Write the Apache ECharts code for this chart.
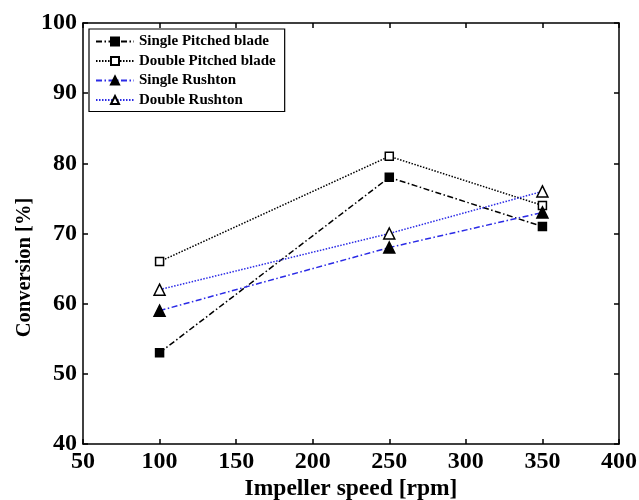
<!DOCTYPE html>
<html>
<head>
<meta charset="utf-8">
<script src="https://cdn.jsdelivr.net/npm/echarts@6/dist/echarts.min.js"></script>
<style>html,body{margin:0;padding:0;background:#fff}#c{width:639px;height:500px}</style>
</head>
<body>
<div id="c"></div>
<script>
const speeds = [100, 250, 350];
const singlePitched = [53, 78, 71];
const doublePitched = [66, 81, 74];
const singleRushton = [59, 68, 73];
const doubleRushton = [62, 70, 76];
const seriesNames = ['Single Pitched blade', 'Double Pitched blade', 'Single Rushton', 'Double Rushton'];

const FONT = '"Liberation Serif", "Times New Roman", serif';
const blue = '#2a2ae6';
const dashDot = [6, 2.5, 1.5, 2.5];
const dotted = [1.5, 1.5];

function pts(vals) { return speeds.map((s, i) => [s, vals[i]]); }

function mk(name, vals, color, dash, symbol, filled, size) {
  return {
    name: name, type: 'line', data: pts(vals),
    symbol: symbol, symbolSize: size,
    lineStyle: { color: color, width: 1.5, type: dash },
    itemStyle: { color: filled ? '#000' : '#fff', borderColor: '#000', borderWidth: 1.5 },
    emphasis: { disabled: true },
    z: 3
  };
}

const chart = echarts.init(document.getElementById('c'));
const axisLine = { show: true, lineStyle: { color: '#000', width: 1.5 } };
const tick = { show: true, inside: true, length: 5, lineStyle: { color: '#000', width: 1.5 } };
const lbl = { color: '#000', fontFamily: FONT, fontWeight: 'bold', fontSize: 24 };
chart.setOption({
  animation: false,
  grid: { left: 83, right: 20, top: 23, bottom: 56, containLabel: false, outerBoundsMode: 'none' },
  legend: {
    data: seriesNames,
    orient: 'vertical', left: 89, top: 29,
    borderColor: '#000', borderWidth: 1.2,
    padding: [5, 9, 4, 6],
    itemWidth: 38, itemHeight: 10, itemGap: 4.5, itemTextGap: 4,
    textStyle: { color: '#000', fontFamily: FONT, fontWeight: 'bold', fontSize: 15, lineHeight: 15 },
    backgroundColor: '#fff'
  },
  xAxis: [{
    type: 'value', min: 50, max: 400, interval: 50,
    name: 'Impeller speed [rpm]', nameLocation: 'middle', nameGap: 33, nameMoveOverlap: false,
    nameTextStyle: { color: '#000', fontFamily: FONT, fontWeight: 'bold', fontSize: 23.5 },
    axisLine: axisLine, axisTick: tick, axisLabel: Object.assign({ margin: 6 }, lbl),
    splitLine: { show: false }
  }, {
    type: 'value', position: 'top', min: 50, max: 400, interval: 50,
    axisLine: axisLine, axisTick: tick, axisLabel: { show: false }, splitLine: { show: false }
  }],
  yAxis: [{
    type: 'value', min: 40, max: 100, interval: 10,
    name: 'Conversion [%]', nameLocation: 'middle', nameGap: 48, nameMoveOverlap: false,
    nameTextStyle: { color: '#000', fontFamily: FONT, fontWeight: 'bold', fontSize: 20.5, padding: [0, 68, 0, 0] },
    axisLine: axisLine, axisTick: tick, axisLabel: Object.assign({ margin: 6 }, lbl),
    splitLine: { show: false }
  }, {
    type: 'value', position: 'right', min: 40, max: 100, interval: 10,
    axisLine: axisLine, axisTick: tick, axisLabel: { show: false }, splitLine: { show: false }
  }],
  series: [
    mk(seriesNames[0], singlePitched, '#000', dashDot, 'rect', true, 8),
    mk(seriesNames[1], doublePitched, '#000', dotted, 'rect', false, 8),
    mk(seriesNames[2], singleRushton, blue, dashDot, 'triangle', true, 11),
    mk(seriesNames[3], doubleRushton, blue, dotted, 'triangle', false, 11)
  ]
});
</script>
</body>
</html>
